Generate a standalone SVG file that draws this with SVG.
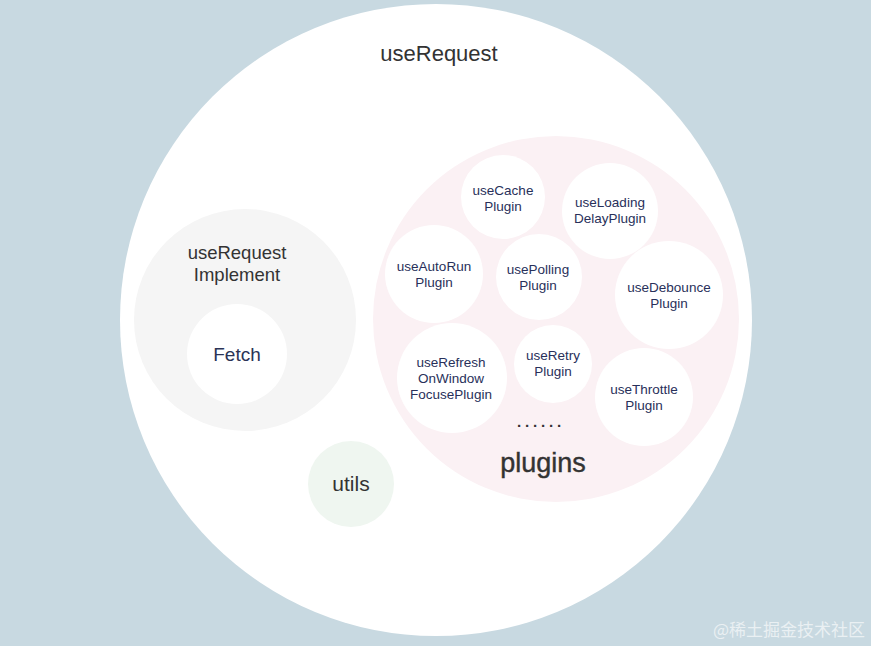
<svg xmlns="http://www.w3.org/2000/svg" width="871" height="646" viewBox="0 0 871 646">
<style>
.t{font-family:"Liberation Sans",Arial,sans-serif;text-anchor:middle}
.p{font-size:13.5px;fill:#28305a}
.w{fill:#ffffff}
</style>
<rect width="871" height="646" fill="#c8d9e1"/>
<g id="useRequest">
<circle cx="436" cy="320" r="316" fill="#ffffff"/>
<text class="t" x="439" y="61" font-size="22" fill="#333333">useRequest</text>
</g>
<g id="implement">
<circle cx="245" cy="320" r="111" fill="#f5f5f5"/>
<text class="t" x="237" y="259" font-size="18.5" fill="#333333">useRequest</text>
<text class="t" x="237" y="281" font-size="18.5" fill="#333333">Implement</text>
</g>
<g id="fetch">
<circle cx="237" cy="354" r="50" class="w"/>
<text class="t" x="237" y="361" font-size="19" fill="#2b3356">Fetch</text>
</g>
<g id="utils">
<circle cx="351" cy="484" r="43" fill="#eff6f0"/>
<text class="t" x="351" y="491" font-size="21" fill="#333333">utils</text>
</g>
<g id="plugins">
<circle cx="556" cy="319" r="183" fill="#fbf1f4"/>
<text class="t" x="543" y="472" font-size="27" fill="#333333" stroke="#333333" stroke-width="0.4">plugins</text>
<text class="t" x="541" y="427" font-size="15" font-weight="bold" letter-spacing="3.8" fill="#333333">......</text>
</g>
<g id="useCache">
<circle cx="503" cy="197" r="42" class="w"/>
<text class="t p" x="503" y="195">useCache</text>
<text class="t p" x="503" y="211">Plugin</text>
</g>
<g id="useLoading">
<circle cx="610" cy="211" r="48" class="w"/>
<text class="t p" x="610" y="207">useLoading</text>
<text class="t p" x="610" y="223">DelayPlugin</text>
</g>
<g id="useAutoRun">
<circle cx="434" cy="274" r="49" class="w"/>
<text class="t p" x="434" y="271">useAutoRun</text>
<text class="t p" x="434" y="287">Plugin</text>
</g>
<g id="usePolling">
<circle cx="539" cy="277" r="43" class="w"/>
<text class="t p" x="538" y="274">usePolling</text>
<text class="t p" x="538" y="290">Plugin</text>
</g>
<g id="useDebounce">
<circle cx="669" cy="295" r="54" class="w"/>
<text class="t p" x="669" y="292">useDebounce</text>
<text class="t p" x="669" y="308">Plugin</text>
</g>
<g id="useRefresh">
<circle cx="452" cy="378" r="55" class="w"/>
<text class="t p" x="451" y="367">useRefresh</text>
<text class="t p" x="451" y="383">OnWindow</text>
<text class="t p" x="451" y="399">FocusePlugin</text>
</g>
<g id="useRetry">
<circle cx="553" cy="364" r="39" class="w"/>
<text class="t p" x="553" y="360">useRetry</text>
<text class="t p" x="553" y="376">Plugin</text>
</g>
<g id="useThrottle">
<circle cx="644" cy="397" r="49" class="w"/>
<text class="t p" x="644" y="394">useThrottle</text>
<text class="t p" x="644" y="410">Plugin</text>
</g>
<g id="connectors"></g>
<text x="865" y="636" font-family="'Noto Sans CJK SC',sans-serif" font-size="17" text-anchor="end" fill="#eef3f5" opacity="0.9">@稀土掘金技术社区</text>
</svg>
